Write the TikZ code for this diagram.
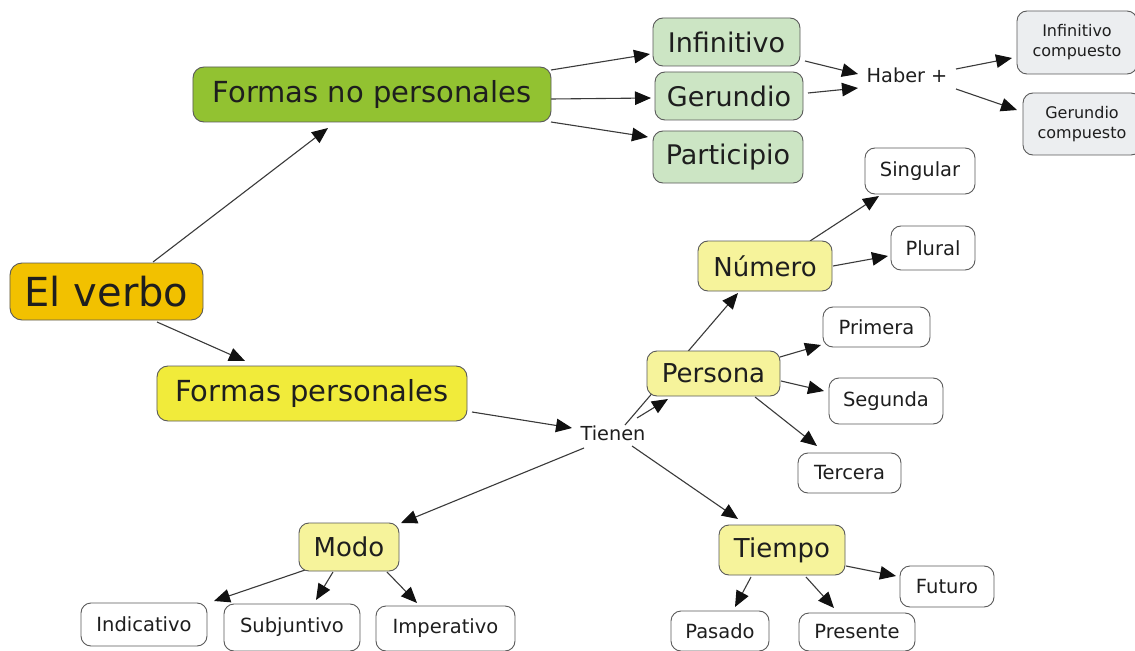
\documentclass[tikz,border=0pt]{standalone}
\usepackage{fontspec}
\setmainfont{DejaVu Sans}
\usetikzlibrary{arrows.meta,backgrounds}
\definecolor{cverbo}{HTML}{F2C100}
\definecolor{cfnp}{HTML}{92C231}
\definecolor{cgreen}{HTML}{CCE5C4}
\definecolor{cgray}{HTML}{ECEEF0}
\definecolor{cyel}{HTML}{F6F39B}
\definecolor{cfp}{HTML}{F1EB3A}
\definecolor{cline}{HTML}{3A3A3A}
\definecolor{ctip}{HTML}{111111}
\definecolor{cborder}{HTML}{5A5A5A}
\definecolor{ctext}{HTML}{1E1E1E}
\tikzset{
  box/.style={draw=cborder, line width=0.9bp, rounded corners=10bp, inner sep=0pt, align=center, text=ctext},
  verbobox/.style={box, fill=cverbo, rounded corners=12bp, font=\fontsize{40bp}{46bp}\selectfont},
  fnpbox/.style={box, fill=cfnp, rounded corners=11bp, font=\fontsize{29bp}{34bp}\selectfont},
  fpbox/.style={box, fill=cfp, rounded corners=11bp, font=\fontsize{29bp}{34bp}\selectfont},
  greenbox/.style={box, fill=cgreen, font=\fontsize{27bp}{32bp}\selectfont},
  yelbox/.style={box, fill=cyel, font=\fontsize{26bp}{31bp}\selectfont},
  graybox/.style={box, fill=cgray, font=\fontsize{16bp}{20bp}\selectfont},
  whitebox/.style={box, fill=white, font=\fontsize{19.5bp}{23bp}\selectfont},
  linktext/.style={inner sep=0pt, text=ctext, font=\fontsize{19.3bp}{23bp}\selectfont},
  arr/.style={draw=cline, line width=1.1bp, -{Triangle[length=16bp,width=13.5bp,color=ctip]}}
}
\begin{document}
\begin{tikzpicture}[x=1bp,y=-1bp]
\useasboundingbox (0,0) rectangle (1135,651);
\clip (0,0) rectangle (1135,651);

% nodes
\node[verbobox, minimum width=193bp, minimum height=57bp] (verbo) at (106.5,291.5) {El verbo};
\node[fnpbox, minimum width=358bp, minimum height=55bp] (fnp) at (372,94.5) {Formas no personales};
\node[greenbox, minimum width=147bp, minimum height=48bp] (inf) at (726.5,42) {Infinitivo};
\node[greenbox, minimum width=148bp, minimum height=48bp] (ger) at (729,96) {Gerundio};
\node[greenbox, minimum width=150bp, minimum height=52bp] (par) at (728,157) {Participio};
\node[linktext] (haber) at (907,75) {Haber +};
\node[graybox, minimum width=120bp, minimum height=63bp] (infc) at (1077,42.5) {Infinitivo\\compuesto};
\node[graybox, minimum width=118bp, minimum height=62bp] (gerc) at (1082,124) {Gerundio\\compuesto};
\node[whitebox, minimum width=110bp, minimum height=46bp] (sing) at (920,171) {Singular};
\node[whitebox, minimum width=84bp, minimum height=44bp] (plur) at (933,248) {Plural};
\node[yelbox, minimum width=134bp, minimum height=50bp] (num) at (765,266) {Número};
\node[whitebox, minimum width=107bp, minimum height=40bp] (prim) at (876.5,327) {Primera};
\node[yelbox, minimum width=133bp, minimum height=45bp] (pers) at (713.5,373.5) {Persona};
\node[whitebox, minimum width=114bp, minimum height=46bp] (seg) at (886,401) {Segunda};
\node[whitebox, minimum width=103bp, minimum height=40bp] (terc) at (849.5,473) {Tercera};
\node[linktext] (tienen) at (613,433) {Tienen};
\node[fpbox, minimum width=310bp, minimum height=55bp] (fp) at (312,393.5) {Formas personales};
\node[yelbox, minimum width=100bp, minimum height=48bp] (modo) at (349,547) {Modo};
\node[yelbox, minimum width=126bp, minimum height=50bp] (tiempo) at (782,550) {Tiempo};
\node[whitebox, minimum width=94bp, minimum height=41bp] (fut) at (947,586.5) {Futuro};
\node[whitebox, minimum width=126bp, minimum height=43bp] (ind) at (144,624.5) {Indicativo};
\node[whitebox, minimum width=136bp, minimum height=47bp] (subj) at (292,627.5) {Subjuntivo};
\node[whitebox, minimum width=139bp, minimum height=45bp] (imp) at (445.5,628.5) {Imperativo};
\node[whitebox, minimum width=98bp, minimum height=40bp] (pas) at (720,631) {Pasado};
\node[whitebox, minimum width=116bp, minimum height=38bp] (pres) at (857,632) {Presente};

% connectors
\begin{scope}[on background layer]
\fill[white] (0,0) rectangle (1135,651);
\draw[arr] ([shift={(46.5,-29.5)}]verbo.center) -- ([shift={(-44,33.5)}]fnp.center);
\draw[arr] ([shift={(50.5,30.5)}]verbo.center) -- ([shift={(-67,-32.5)}]fp.center);
\draw[arr] ([shift={(179,-24.5)}]fnp.center) -- ([shift={(-76.5,12)}]inf.center);
\draw[arr] ([shift={(179,4.5)}]fnp.center) -- ([shift={(-78,2)}]ger.center);
\draw[arr] ([shift={(179,27.5)}]fnp.center) -- ([shift={(-80,-20)}]par.center);
\draw[arr] ([shift={(78.5,19)}]inf.center) -- ([shift={(-49,-1)}]haber.center);
\draw[arr] ([shift={(79,-3)}]ger.center) -- ([shift={(-49,13)}]haber.center);
\draw[arr] ([shift={(49,-6)}]haber.center) -- ([shift={(-65,15.5)}]infc.center);
\draw[arr] ([shift={(49,14)}]haber.center) -- ([shift={(-65,-14)}]gerc.center);
\draw[arr] ([shift={(160,18.5)}]fp.center) -- ([shift={(-41,-5)}]tienen.center);
\draw[arr] ([shift={(12,-8)}]tienen.center) -- ([shift={(-27,27)}]num.center);
\draw[arr] ([shift={(24,-15)}]tienen.center) -- ([shift={(-45.5,25.5)}]pers.center);
\draw[arr] ([shift={(-29,15)}]tienen.center) -- ([shift={(52,-24)}]modo.center);
\draw[arr] ([shift={(19,13)}]tienen.center) -- ([shift={(-44,-31)}]tiempo.center);
\draw[arr] ([shift={(45,-25)}]num.center) -- ([shift={(-41,25)}]sing.center);
\draw[arr] ([shift={(68,0)}]num.center) -- ([shift={(-45,8)}]plur.center);
\draw[arr] ([shift={(66.5,-16.5)}]pers.center) -- ([shift={(-55.5,18)}]prim.center);
\draw[arr] ([shift={(67.5,7.5)}]pers.center) -- ([shift={(-62,-10)}]seg.center);
\draw[arr] ([shift={(41.5,23.5)}]pers.center) -- ([shift={(-32.5,-27)}]terc.center);
\draw[arr] ([shift={(-41,22)}]modo.center) -- ([shift={(70,-23.5)}]ind.center);
\draw[arr] ([shift={(-16,25)}]modo.center) -- ([shift={(24,-27.5)}]subj.center);
\draw[arr] ([shift={(38,25)}]modo.center) -- ([shift={(-28.5,-25.5)}]imp.center);
\draw[arr] ([shift={(64,16)}]tiempo.center) -- ([shift={(-51,-10.5)}]fut.center);
\draw[arr] ([shift={(-31,27)}]tiempo.center) -- ([shift={(15,-24)}]pas.center);
\draw[arr] ([shift={(24,27)}]tiempo.center) -- ([shift={(-23,-24)}]pres.center);
\end{scope}
\end{tikzpicture}
\end{document}
